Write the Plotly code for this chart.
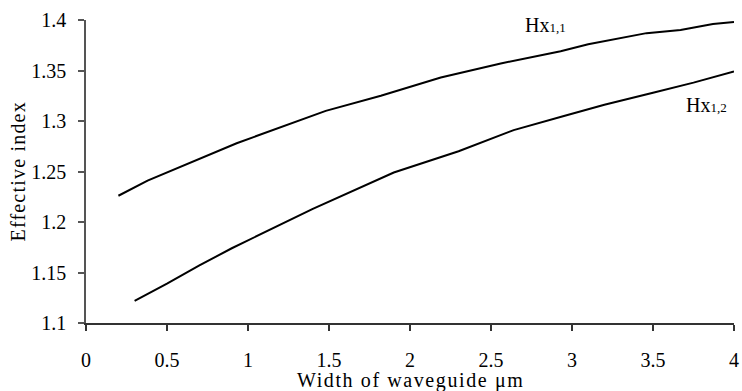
import plotly.graph_objects as go

# Hx1,1 curve
x_h11 = [0.2, 0.38, 0.93, 1.48, 1.82, 2.19, 2.56, 2.93, 3.1, 3.46, 3.67, 3.87, 4.0]
y_h11 = [1.226, 1.241, 1.278, 1.310, 1.325, 1.343, 1.357, 1.369, 1.376, 1.387, 1.390, 1.396, 1.398]

# Hx1,2 curve
x_h12 = [0.3, 0.5, 0.7, 0.9, 1.4, 1.9, 2.3, 2.64, 2.95, 3.2, 3.5, 3.75, 4.0]
y_h12 = [1.122, 1.139, 1.157, 1.174, 1.213, 1.249, 1.270, 1.291, 1.305, 1.316, 1.328, 1.338, 1.349]

x_ticks = [0, 0.5, 1, 1.5, 2, 2.5, 3, 3.5, 4]
x_tick_text = ["0", "0.5", "1", "1.5", "2", "2.5", "3", "3.5", "4"]
y_ticks = [1.1, 1.15, 1.2, 1.25, 1.3, 1.35, 1.4]
y_tick_text = ["1.1", "1.15", "1.2", "1.25", "1.3", "1.35", "1.4"]

FONT = "Liberation Serif"

fig = go.Figure()
fig.add_trace(go.Scatter(x=x_h11, y=y_h11, mode="lines",
                         line=dict(color="black", width=2), showlegend=False))
fig.add_trace(go.Scatter(x=x_h12, y=y_h12, mode="lines",
                         line=dict(color="black", width=2), showlegend=False))

fig.update_layout(
    width=742, height=391,
    margin=dict(l=86, r=8, t=20, b=68),
    paper_bgcolor="white", plot_bgcolor="white",
    font=dict(family=FONT, size=20, color="black"),
    xaxis=dict(range=[0, 4], tickvals=x_ticks, ticktext=x_tick_text,
               showgrid=False, zeroline=False, showline=True, automargin=False,
               linecolor="#333333", linewidth=1.5, ticks="outside",
               ticklen=6, tickcolor="#333333", tickwidth=1.5,
               ticklabelstandoff=12,
               tickfont=dict(family=FONT, size=20)),
    yaxis=dict(range=[1.1, 1.4], tickvals=y_ticks, ticktext=y_tick_text,
               showgrid=False, zeroline=False, showline=True, automargin=False,
               linecolor="#555555", linewidth=1.5, ticks="outside",
               ticklen=6, tickcolor="#555555", tickwidth=1.5,
               ticklabelstandoff=8,
               tickfont=dict(family=FONT, size=20)),
)

fig.add_annotation(text="<span style='letter-spacing:1.6px'>Width of waveguide μm</span>",
                   xref="paper", yref="paper",
                   x=0.5, y=0, xanchor="center", yanchor="middle", yshift=-57,
                   showarrow=False, font=dict(family=FONT, size=20))
fig.add_annotation(text="<span style='letter-spacing:1.2px'>Effective index</span>",
                   xref="paper", yref="paper",
                   x=0, y=0.5, xanchor="center", yanchor="middle", xshift=-69,
                   textangle=-90, showarrow=False, font=dict(family=FONT, size=20))

fig.add_annotation(text="Hx<span style='font-size:13px'>1,1</span>", x=2.70, y=1.395,
                   xanchor="left", yanchor="middle", showarrow=False,
                   font=dict(family=FONT, size=20))
fig.add_annotation(text="Hx<span style='font-size:13px'>1,2</span>", x=3.69, y=1.3157,
                   xanchor="left", yanchor="middle", showarrow=False,
                   font=dict(family=FONT, size=20))

fig.write_html("out.html")
